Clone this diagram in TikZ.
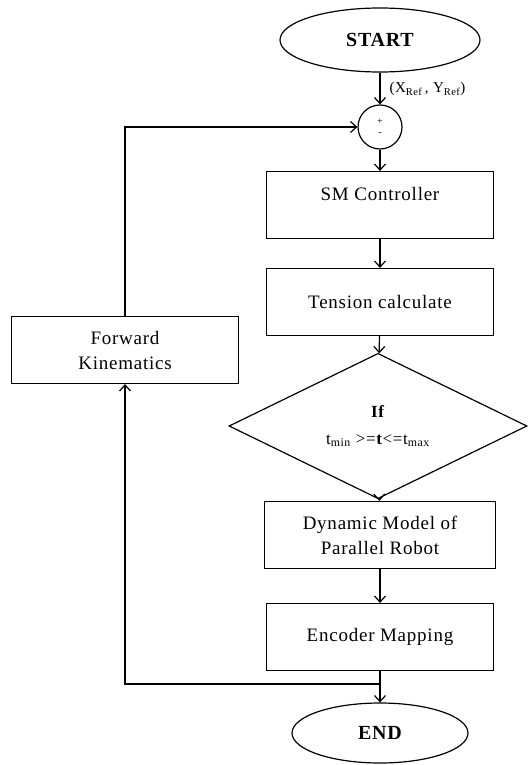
\documentclass[tikz,border=0pt]{standalone}
\usepackage{fontspec}
\setmainfont{Liberation Serif}[LetterSpace=4]
\usetikzlibrary{positioning, shapes.geometric, arrows.meta}

\begin{document}
\begin{tikzpicture}[
        x=1pt, y=-1pt,
        % Box Styles
        stepBox/.style = {rectangle, draw, line width=1.2pt, minimum width=227pt, minimum height=67pt, align=center, font=\fontsize{19}{25}\selectfont},
        termNode/.style = {ellipse, draw, line width=1.2pt, inner sep=0pt, font=\fontsize{20}{24}\selectfont\bfseries},
        testNode/.style = {diamond, draw, line width=1.2pt, inner sep=0pt, minimum width=298pt, minimum height=117pt, align=center, font=\fontsize{17}{27}\selectfont},
        sumNode/.style = {circle, draw, line width=1.2pt, inner sep=0pt, minimum size=44pt, align=center, font=\fontsize{10}{11}\selectfont},
        % Arrow Style
        flowLine/.style = {-{Straight Barb[length=6pt, width=11pt]}, line width=1.2pt}
    ]
    \useasboundingbox (0,0) rectangle (531,765);

    % ==========================================
    % MAIN COLUMN
    % ==========================================
    \node[termNode, minimum width=200pt, minimum height=64pt] (Start) at (380,40) {START};
    \node[sumNode] (Sum) at (380,127) {+\\-};
    \node[stepBox, text depth=22pt] (SMC) at (380,205) {SM Controller};
    \node[stepBox] (Tension) at (380,302) {Tension calculate};
    \node[testNode] (Check) at (378,426) {\textbf{If}\\t\textsubscript{min} >=\textbf{t}<=t\textsubscript{max}};
    \node[stepBox, minimum width=231pt] (Dyn) at (380,535) {Dynamic Model of\\Parallel Robot};
    \node[stepBox] (Enc) at (380,637) {Encoder Mapping};
    \node[termNode, minimum width=176pt, minimum height=60pt] (End) at (380,733) {END};

    % ==========================================
    % FEEDBACK BRANCH
    % ==========================================
    \node[stepBox] (FK) at (125,350) {Forward\\Kinematics};
    \coordinate (Join) at (380,684);

    % Reference input label
    \node[font=\fontsize{15}{18}\selectfont, anchor=west] (RefLbl) at (386,89) {(X\textsubscript{Ref}\,, Y\textsubscript{Ref})};

    % ==========================================
    % CONNECTORS
    % ==========================================
    \draw[flowLine] (Start) -- (Sum);
    \draw[flowLine] (Sum) -- (SMC);
    \draw[flowLine] (SMC) -- (Tension);
    \draw[flowLine] (Tension) -- (Check);
    \draw[flowLine] (Check) -- (Dyn);
    \draw[flowLine] (Dyn) -- (Enc);
    \draw[line width=1.2pt] (Enc) -- (Join);
    \draw[flowLine] (Join) -- (End);
    \draw[flowLine] (Join) -| (FK.south);
    \draw[flowLine] (FK.north) |- (Sum.west);

\end{tikzpicture}
\end{document}
